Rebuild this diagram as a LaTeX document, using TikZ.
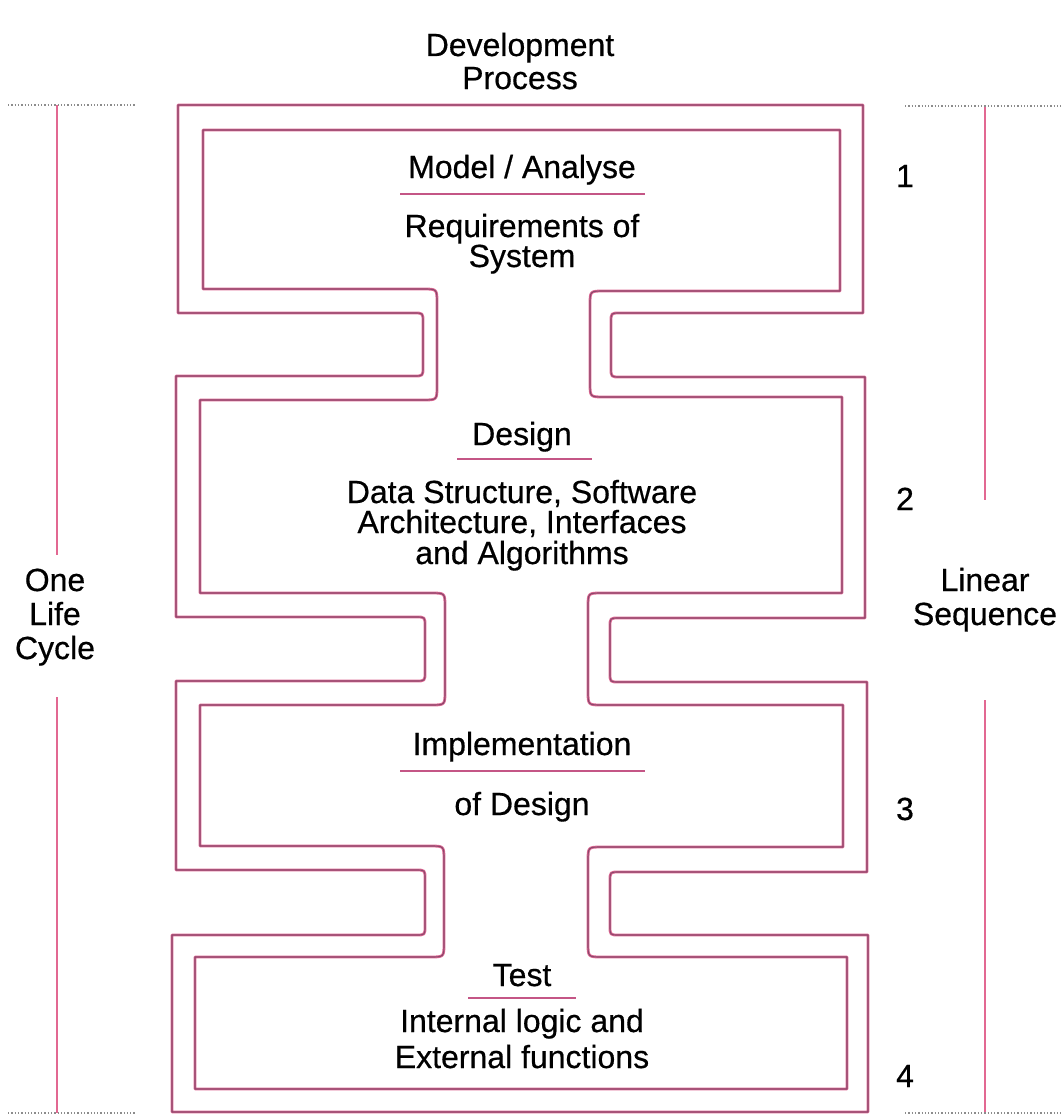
\documentclass[tikz,border=0pt]{standalone}
\usepackage{fontspec}
\setmainfont{Liberation Sans}[FakeBold=0.5]
\definecolor{wallpink}{RGB}{222,105,148}
\definecolor{wallcore}{RGB}{140,72,108}
\definecolor{sidepink}{RGB}{226,104,146}
\definecolor{rulepink}{RGB}{196,86,134}
\begin{document}
\begin{tikzpicture}[x=1pt, y=-1pt,
  wall/.style={draw=wallpink, line width=2.8, line join=round,
    postaction={draw=wallcore, line width=1.1}},
  sideline/.style={draw=sidepink, line width=2.2},
  edgeline/.style={draw=black!45, line width=1.3, dotted},
  titlerule/.style={draw=rulepink, line width=2},
  lbl/.style={anchor=base, inner sep=0pt, font=\fontsize{32}{31}\selectfont}]
\useasboundingbox (0,0) rectangle (1063,1116);
\fill[white] (0,0) rectangle (1063,1116);

% outer wall of the pipe
\draw[wall] (178,105) -- (863,105) -- (863,313)
  -- (620,313) .. controls (611,313) .. (611,322)
  -- (611,368) .. controls (611,377) .. (620,377)
  -- (865,377) -- (865,618)
  -- (619,618) .. controls (610,618) .. (610,627)
  -- (610,673) .. controls (610,682) .. (619,682)
  -- (867,682) -- (867,872)
  -- (619,872) .. controls (610,872) .. (610,881)
  -- (610,926) .. controls (610,935) .. (619,935)
  -- (868,935) -- (868,1112) -- (172,1112) -- (172,935)
  -- (416,935) .. controls (425,935) .. (425,926)
  -- (425,879) .. controls (425,870) .. (416,870)
  -- (176,870) -- (176,681)
  -- (416,681) .. controls (425,681) .. (425,672)
  -- (425,626) .. controls (425,617) .. (416,617)
  -- (176,617) -- (176,376)
  -- (414,376) .. controls (423,376) .. (423,367)
  -- (423,322) .. controls (423,313) .. (414,313)
  -- (178,313) -- cycle;

% inner wall of the pipe
\draw[wall] (203,130) -- (840,130) -- (840,291)
  -- (604,291) .. controls (590,291) .. (590,305)
  -- (590,383) .. controls (590,397) .. (604,397)
  -- (842,397) -- (842,593)
  -- (602,593) .. controls (588,593) .. (588,607)
  -- (588,691) .. controls (588,705) .. (602,705)
  -- (843,705) -- (843,847)
  -- (602,847) .. controls (588,847) .. (588,861)
  -- (588,943) .. controls (588,957) .. (602,957)
  -- (847,957) -- (847,1089) -- (195,1089) -- (195,957)
  -- (430,957) .. controls (444,957) .. (444,943)
  -- (444,860) .. controls (444,846) .. (430,846)
  -- (200,846) -- (200,705)
  -- (431,705) .. controls (445,705) .. (445,691)
  -- (445,607) .. controls (445,593) .. (431,593)
  -- (200,593) -- (200,400)
  -- (423,400) .. controls (437,400) .. (437,386)
  -- (437,303) .. controls (437,289) .. (423,289)
  -- (203,289) -- cycle;

% heading
\node[lbl] (devA) at (520,56) {Development};
\node[lbl] (devB) at (520,89) {Process};

% stage 1
\node[lbl] (s1title) at (522,178) {Model / Analyse};
\coordinate (s1ruleL) at (400,194);
\coordinate (s1ruleR) at (645,194);
\draw[titlerule] (s1ruleL) -- (s1ruleR);
\node[lbl] (s1a) at (522,237) {Requirements of};
\node[lbl] (s1b) at (522,267) {System};

% stage 2
\node[lbl] (s2title) at (522,445) {Design};
\coordinate (s2ruleL) at (457,459);
\coordinate (s2ruleR) at (592,459);
\draw[titlerule] (s2ruleL) -- (s2ruleR);
\node[lbl] (s2a) at (522,503) {Data Structure, Software};
\node[lbl] (s2b) at (522,533) {Architecture, Interfaces};
\node[lbl] (s2c) at (522,564) {and Algorithms};

% stage 3
\node[lbl] (s3title) at (522,755) {Implementation};
\coordinate (s3ruleL) at (400,771);
\coordinate (s3ruleR) at (645,771);
\draw[titlerule] (s3ruleL) -- (s3ruleR);
\node[lbl] (s3a) at (522,815) {of Design};

% stage 4
\node[lbl] (s4title) at (522,986) {Test};
\coordinate (s4ruleL) at (468,998);
\coordinate (s4ruleR) at (576,998);
\draw[titlerule] (s4ruleL) -- (s4ruleR);
\node[lbl] (s4a) at (522,1032) {Internal logic and};
\node[lbl] (s4b) at (522,1068) {External functions};

% stage numbers
\node[lbl] (n1) at (905,187) {1};
\node[lbl] (n2) at (905,510) {2};
\node[lbl] (n3) at (905,820) {3};
\node[lbl] (n4) at (905,1087) {4};

% left bracket: one life cycle
\node[lbl] (lcA) at (55,591) {One};
\node[lbl] (lcB) at (55,625) {Life};
\node[lbl] (lcC) at (55,659) {Cycle};
\coordinate (ltop) at (57,105);
\coordinate (lmidA) at (57,555);
\coordinate (lmidB) at (57,697);
\coordinate (lbot) at (57,1113);
\draw[sideline] (ltop) -- (lmidA);
\draw[sideline] (lmidB) -- (lbot);
\draw[edgeline] (8,105) -- (135,105);
\draw[edgeline] (8,1113) -- (135,1113);

% right bracket: linear sequence
\node[lbl] (lsA) at (985,591) {Linear};
\node[lbl] (lsB) at (985,625) {Sequence};
\coordinate (rtop) at (985,106);
\coordinate (rmidA) at (985,500);
\coordinate (rmidB) at (985,700);
\coordinate (rbot) at (985,1113);
\draw[sideline] (rtop) -- (rmidA);
\draw[sideline] (rmidB) -- (rbot);
\draw[edgeline] (905,106) -- (1063,106);
\draw[edgeline] (905,1113) -- (1063,1113);
\end{tikzpicture}
\end{document}
